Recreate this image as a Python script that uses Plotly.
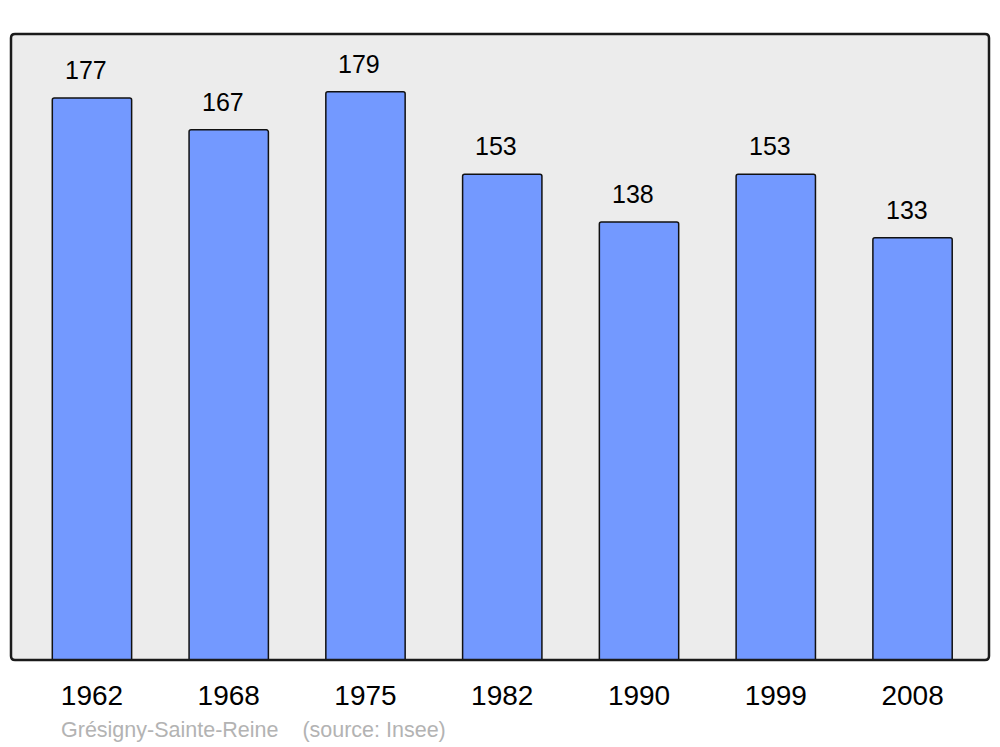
import plotly.graph_objects as go

years = ["1962", "1968", "1975", "1982", "1990", "1999", "2008"]
population = [177, 167, 179, 153, 138, 153, 133]
commune = "Grésigny-Sainte-Reine"
source = "(source: Insee)"

fig = go.Figure()

fig.add_trace(go.Bar(
    x=years,
    y=population,
    width=0.58,
    marker=dict(color='#7399ff', line=dict(color='#111111', width=1.5), cornerradius=2),
    hoverinfo='x+y',
))

# value labels above each bar (category index, numeric-looking names are ambiguous)
for i, val in enumerate(population):
    fig.add_annotation(
        x=i, y=val, text=str(val), showarrow=False,
        yshift=28, xshift=-6,
        font=dict(family='Liberation Sans, Arial', size=25, color='#000000'),
    )

fig.add_annotation(
    x=0.049, y=-0.112, xref='paper', yref='paper', xanchor='left', yanchor='middle',
    text=commune + '\u00a0\u00a0\u00a0\u00a0' + source, showarrow=False,
    font=dict(family='Liberation Sans, Arial', size=21.5, color='#b3b3b3'),
)

# rounded frame around the plot area
W, H = 978.0, 626.0
r = 4.0
rx, ry = r / W, r / H
path = (f"M {rx},0 L {1-rx},0 Q 1,0 1,{ry} L 1,{1-ry} Q 1,1 {1-rx},1 "
        f"L {rx},1 Q 0,1 0,{1-ry} L 0,{ry} Q 0,0 {rx},0 Z")
fig.add_shape(type='path', path=path, xref='paper', yref='paper',
              line=dict(color='#1a1a1a', width=2.5), layer='above')

fig.update_layout(
    width=1000, height=747,
    margin=dict(l=11, r=11, t=34, b=87),
    paper_bgcolor='#ffffff',
    plot_bgcolor='#ececec',
    showlegend=False,
    xaxis=dict(
        type='category',
        range=[-0.592, 6.559],
        showgrid=False, zeroline=False, showline=False,
        ticks='outside', ticklen=10, tickcolor='rgba(0,0,0,0)',
        tickfont=dict(family='Liberation Sans, Arial', size=28, color='#000000'),
    ),
    yaxis=dict(
        range=[0, 197.2],
        showgrid=False, zeroline=False, showline=False,
        showticklabels=False, ticks='',
    ),
)

fig.write_html("out.html", config={'displayModeBar': False},
               post_script="document.body.style.margin='0';")
